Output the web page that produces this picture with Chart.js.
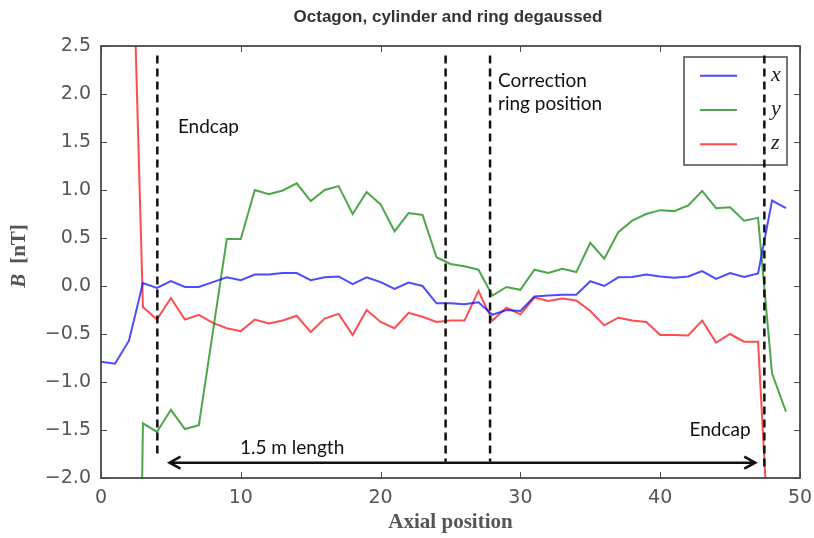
<!DOCTYPE html>
<html>
<head>
<meta charset="utf-8">
<script src="https://cdn.jsdelivr.net/npm/chart.js@4.4.1/dist/chart.umd.min.js"></script>
<style>
  html, body { margin: 0; padding: 0; background: #fff; }
  #wrap { width: 814px; height: 538px; }
</style>
</head>
<body>
<div id="wrap"><canvas id="chart" width="814" height="538"></canvas></div>
<script>
// Axial positions of the probe (one reading per step)
const positions = [0, 1, 2, 3, 4, 5, 6, 7, 8, 9,
    10, 11, 12, 13, 14, 15, 16, 17, 18, 19,
    20, 21, 22, 23, 24, 25, 26, 27, 28, 29,
    30, 31, 32, 33, 34, 35, 36, 37, 38, 39,
    40, 41, 42, 43, 44, 45, 46, 47, 48, 49];

// Field components in nT
const fieldX = [-0.79, -0.81, -0.57, 0.03, -0.02, 0.05, -0.01, -0.01, 0.04, 0.09,
    0.06, 0.12, 0.12, 0.135, 0.135, 0.06, 0.09, 0.10, 0.02, 0.09,
    0.04, -0.03, 0.035, 0.0, -0.18, -0.18, -0.19, -0.17, -0.30, -0.25,
    -0.26, -0.11, -0.10, -0.09, -0.09, 0.05, 0.0, 0.09, 0.095, 0.12,
    0.10, 0.085, 0.10, 0.155, 0.075, 0.135, 0.095, 0.13, 0.89, 0.81];

const fieldY = [-12, -12, -12, -1.43, -1.52, -1.29, -1.49, -1.45, -0.48, 0.49,
    0.49, 1.0, 0.955, 0.995, 1.07, 0.885, 1.0, 1.04, 0.75, 0.98,
    0.85, 0.57, 0.76, 0.74, 0.30, 0.23, 0.205, 0.17, -0.10, -0.01,
    -0.04, 0.17, 0.135, 0.18, 0.145, 0.45, 0.285, 0.56, 0.68, 0.75,
    0.79, 0.78, 0.84, 0.99, 0.81, 0.82, 0.68, 0.71, -0.91, -1.31];

const fieldZ = [9, 8, 5.0, -0.22, -0.35, -0.125, -0.35, -0.30, -0.385, -0.44,
    -0.47, -0.35, -0.39, -0.36, -0.31, -0.48, -0.34, -0.29, -0.51, -0.25,
    -0.375, -0.44, -0.28, -0.32, -0.375, -0.36, -0.36, -0.05, -0.36, -0.225,
    -0.295, -0.12, -0.155, -0.13, -0.15, -0.26, -0.41, -0.33, -0.36, -0.375,
    -0.51, -0.51, -0.515, -0.36, -0.59, -0.50, -0.58, -0.58, -3.3, -4.5];

// Endcaps and correction ring (axial position)
const markerLines = [4.03, 24.65, 27.83, 47.45];
const markerTop = 2.4;
const markerBottom = [-1.78, -1.83, -1.83, -1.9];

const xTicks = [0, 10, 20, 30, 40, 50];
const yTicks = [-2.0, -1.5, -1.0, -0.5, 0.0, 0.5, 1.0, 1.5, 2.0, 2.5];

const seriesNames = ['x', 'y', 'z'];
const seriesColors = ['rgba(0,0,255,0.7)', 'rgba(0,128,0,0.7)', 'rgba(255,0,0,0.7)'];

const frameColor = '#4a4a4a';
const labelColor = '#555';

function toPoints(values) {
    return positions.map((p, i) => ({ x: p, y: values[i] }));
}

const datasets = [fieldX, fieldY, fieldZ].map((values, i) => ({
    label: seriesNames[i],
    data: toPoints(values),
    borderColor: seriesColors[i],
    borderWidth: 2,
    pointRadius: 0,
    tension: 0,
    order: 2
}));

markerLines.forEach((m, i) => {
    datasets.push({
        label: 'marker' + i,
        data: [{ x: m, y: markerTop }, { x: m, y: markerBottom[i] }],
        borderColor: '#111',
        borderWidth: 2.5,
        borderDash: [8, 5],
        pointRadius: 0,
        order: 1
    });
});

// Free text placed in data coordinates (left edge, baseline)
const notes = [
    { text: 'Endcap', x: 5.5, y: 1.59 },
    { text: 'Correction', x: 28.4, y: 2.07 },
    { text: 'ring position', x: 28.4, y: 1.83 },
    { text: '1.5 m length', x: 9.94, y: -1.753 },
    { text: 'Endcap', x: 42.1, y: -1.566 }
];
const arrowSpan = { from: 4.9, to: 46.8, y: -1.84 };

const decorations = {
    id: 'decorations',
    beforeDatasetsDraw(chart) {
        // legend box, drawn under the dashed markers
        const ctx = chart.ctx;
        ctx.save();
        ctx.fillStyle = '#fff';
        ctx.fillRect(684, 57, 103, 108);
        ctx.strokeStyle = frameColor;
        ctx.lineWidth = 1.5;
        ctx.strokeRect(684, 57, 103, 108);
        const rows = [75.7, 110, 144.3];
        rows.forEach((ry, i) => {
            ctx.strokeStyle = seriesColors[i];
            ctx.lineWidth = 2;
            ctx.beginPath();
            ctx.moveTo(700, ry);
            ctx.lineTo(737, ry);
            ctx.stroke();
            ctx.fillStyle = '#222';
            ctx.font = 'italic 22px "Liberation Serif"';
            ctx.textBaseline = 'alphabetic';
            ctx.textAlign = 'left';
            ctx.fillText(seriesNames[i], 771, ry + 5);
        });
        ctx.restore();
    },
    afterDraw(chart) {
        const ctx = chart.ctx;
        const a = chart.chartArea;
        const xs = chart.scales.x;
        const ys = chart.scales.y;
        ctx.save();

        // inward tick marks on all four sides
        ctx.strokeStyle = frameColor;
        ctx.lineWidth = 1;
        xTicks.forEach(t => {
            const px = Math.round(xs.getPixelForValue(t)) + 0.5;
            ctx.beginPath();
            ctx.moveTo(px, a.bottom); ctx.lineTo(px, a.bottom - 6);
            ctx.moveTo(px, a.top); ctx.lineTo(px, a.top + 6);
            ctx.stroke();
        });
        yTicks.forEach(t => {
            const py = Math.round(ys.getPixelForValue(t)) + 0.5;
            ctx.beginPath();
            ctx.moveTo(a.left, py); ctx.lineTo(a.left + 6, py);
            ctx.moveTo(a.right, py); ctx.lineTo(a.right - 6, py);
            ctx.stroke();
        });

        // frame
        ctx.lineWidth = 1.8;
        ctx.strokeRect(a.left, a.top, a.right - a.left, a.bottom - a.top);

        // title
        ctx.fillStyle = '#333';
        ctx.font = 'bold 17px "Liberation Sans"';
        ctx.textAlign = 'center';
        ctx.textBaseline = 'middle';
        ctx.fillText('Octagon, cylinder and ring degaussed', 448, 17);

        // axis titles
        ctx.fillStyle = labelColor;
        ctx.font = 'bold 21px "Liberation Serif"';
        ctx.fillText('Axial position', (a.left + a.right) / 2, 523);

        ctx.save();
        ctx.translate(20, 256);
        ctx.rotate(-Math.PI / 2);
        ctx.textAlign = 'left';
        const partB = 'B';
        const partUnit = '[nT]';
        ctx.font = 'italic bold 21px "Liberation Serif"';
        const wB = ctx.measureText(partB).width;
        ctx.font = 'bold 21px "Liberation Serif"';
        const wU = ctx.measureText(partUnit).width;
        const gap = 10;
        const start = -(wB + gap + wU) / 2;
        ctx.font = 'italic bold 21px "Liberation Serif"';
        ctx.fillText(partB, start, 0);
        ctx.font = 'bold 21px "Liberation Serif"';
        ctx.fillText(partUnit, start + wB + gap, 0);
        ctx.restore();

        // annotations
        ctx.fillStyle = '#111';
        ctx.font = '19px Lato';
        ctx.textAlign = 'left';
        ctx.textBaseline = 'alphabetic';
        notes.forEach(n => {
            ctx.fillText(n.text, xs.getPixelForValue(n.x), ys.getPixelForValue(n.y));
        });

        // double arrow for the 1.5 m length
        const x1 = xs.getPixelForValue(arrowSpan.from);
        const x2 = xs.getPixelForValue(arrowSpan.to);
        const ay = ys.getPixelForValue(arrowSpan.y);
        ctx.strokeStyle = '#111';
        ctx.lineWidth = 2.5;
        ctx.beginPath();
        ctx.moveTo(x1, ay); ctx.lineTo(x2, ay);
        ctx.moveTo(x1 + 11, ay - 6); ctx.lineTo(x1, ay); ctx.lineTo(x1 + 11, ay + 6);
        ctx.moveTo(x2 - 11, ay - 6); ctx.lineTo(x2, ay); ctx.lineTo(x2 - 11, ay + 6);
        ctx.stroke();

        ctx.restore();
    }
};

new Chart(document.getElementById('chart'), {
    type: 'line',
    data: { datasets: datasets },
    options: {
        responsive: false,
        animation: false,
        devicePixelRatio: 1,
        layout: { padding: { top: 46, right: 14, left: 0, bottom: 0 } },
        plugins: {
            legend: { display: false },
            title: { display: false },
            tooltip: { enabled: false }
        },
        scales: {
            x: {
                type: 'linear',
                min: 0,
                max: 50,
                grid: { display: false },
                border: { display: false },
                ticks: {
                    stepSize: 10,
                    padding: 1,
                    color: labelColor,
                    font: { family: 'DejaVu Sans', size: 19 }
                },
                afterFit(scale) { scale.height = 60; }
            },
            y: {
                type: 'linear',
                min: -2,
                max: 2.5,
                grid: { display: false },
                border: { display: false },
                ticks: {
                    stepSize: 0.5,
                    padding: 2,
                    color: labelColor,
                    font: { family: 'DejaVu Sans', size: 19 },
                    callback: v => (v < 0 ? '\u2212' : '') + Math.abs(v).toFixed(1)
                },
                afterFit(scale) { scale.width = 101; }
            }
        }
    },
    plugins: [decorations]
});
</script>
</body>
</html>
